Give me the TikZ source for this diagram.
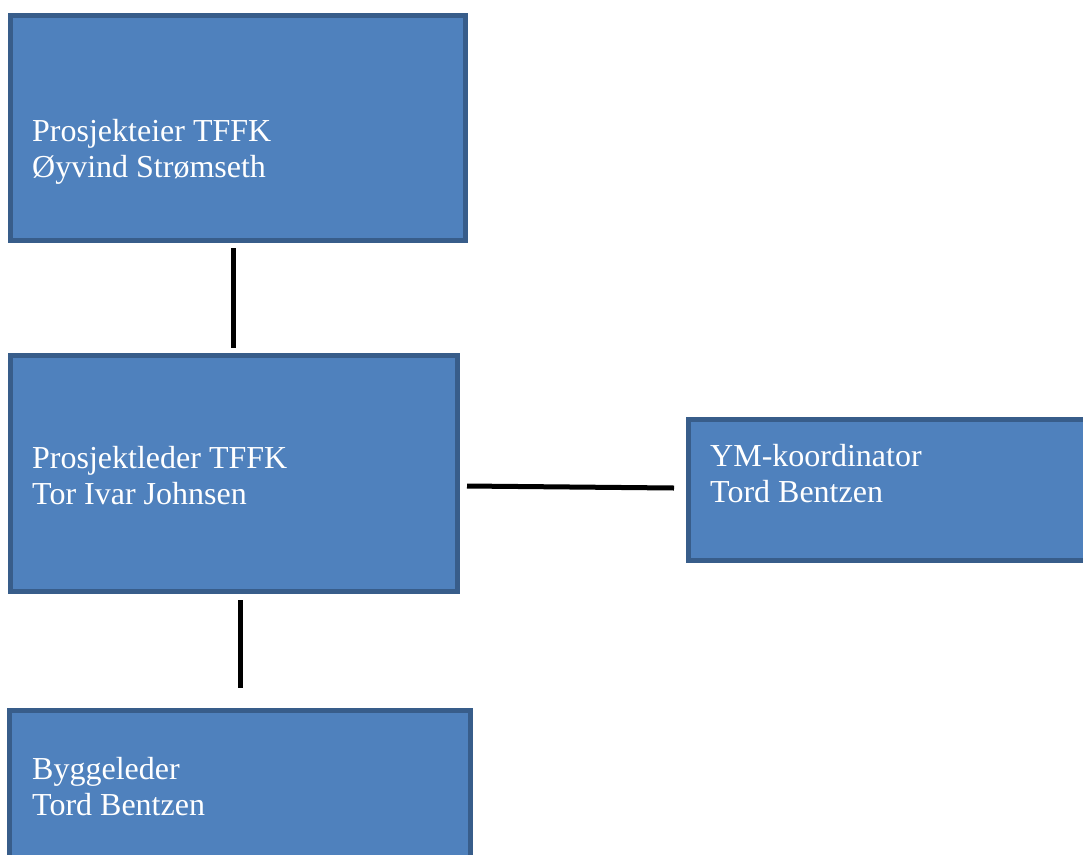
\documentclass[tikz,border=0pt]{standalone}
\usepackage{fontspec}
\setmainfont{Liberation Serif}
\definecolor{boxfill}{HTML}{4F81BD}
\definecolor{boxline}{HTML}{385D8A}
\begin{document}
\begin{tikzpicture}[x=1pt,y=-1pt,
  orgbox/.style={draw=boxline,fill=boxfill,line width=5pt,inner sep=0pt,outer sep=0pt,rectangle},
  label/.style={anchor=base west,inner sep=0pt,text=white,font=\fontsize{32}{36}\selectfont,align=left},
  conn/.style={line width=5pt,black}]
\useasboundingbox (0,0) rectangle (1083,854);
\clip (0,0) rectangle (1083,854);
% boxes
\node[orgbox,minimum width=455pt,minimum height=225pt] (owner) at (238,128) {};
\node[orgbox,minimum width=447pt,minimum height=236pt] (lead) at (234,473.5) {};
\node[orgbox,minimum width=406pt,minimum height=141pt] (ym) at (891.5,490) {};
\node[orgbox,minimum width=461pt,minimum height=200pt] (build) at (240,810.5) {};
% texts
\node[label] (ownert1) at (32,141) {Prosjekteier TFFK};
\node[label] (ownert2) at (32,177) {Øyvind Strømseth};
\node[label] (leadt1) at (32,468) {Prosjektleder TFFK};
\node[label] (leadt2) at (32,504) {Tor Ivar Johnsen};
\node[label] (ymt1) at (710,466) {YM-koordinator};
\node[label] (ymt2) at (710,502) {Tord Bentzen};
\node[label] (buildt1) at (32,779) {Byggeleder};
\node[label] (buildt2) at (32,815) {Tord Bentzen};
% connectors
\coordinate (x1) at (233,0);
\coordinate (x2) at (240,0);
\coordinate (hl) at (467,486);
\coordinate (hr) at (674,488);
\draw[conn,shorten <=7.5pt,shorten >=7.5pt] (owner.south -| x1) -- (lead.north -| x1);
\draw[conn,shorten <=8.5pt,shorten >=22.5pt] (lead.south -| x2) -- (build.north -| x2);
\draw[conn] (hl) -- (hr);
\end{tikzpicture}
\end{document}
